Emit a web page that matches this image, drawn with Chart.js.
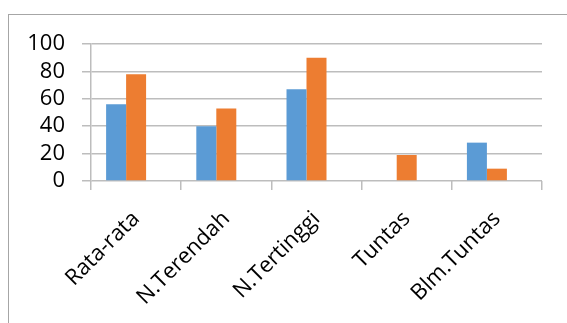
<!DOCTYPE html>
<html>
<head>
<meta charset="utf-8">
<script src="https://cdn.jsdelivr.net/npm/chart.js@4"></script>
<style>
    body { margin: 0; background: #fff; }
    #frame { position: absolute; left: 8px; top: 14px; width: 600px; height: 400px;
             border-left: 1px solid #a6a6a6; border-top: 1px solid #a6a6a6; }
    #nilai { position: absolute; left: 0; top: 0; }
</style>
</head>
<body>
<div id="frame"></div>
<canvas id="nilai" width="567" height="323"></canvas>
<script>
// data
var categories = ['Rata-rata', 'N.Terendah', 'N.Tertinggi', 'Tuntas', 'Blm.Tuntas'];
var series1 = [56, 40, 67, 0, 28];
var series2 = [78, 53, 90, 19, 9];
var series3 = [0, 0, 0, 0, 0];
var yTicks = [0, 20, 40, 60, 80, 100];

var fontFamily = '"Open Sans", sans-serif';
var gridColor = '#bdbdbd';

var ctx = document.getElementById('nilai').getContext('2d');
var chart = new Chart(ctx, {
    type: 'bar',
    data: {
        labels: categories,
        datasets: [{
            label: 'Series1',
            backgroundColor: '#5b9bd5',
            data: series1
        }, {
            label: 'Series2',
            backgroundColor: '#ed7d31',
            data: series2
        }, {
            label: 'Series3',
            backgroundColor: '#a5a5a5',
            data: series3
        }]
    },
    options: {
        responsive: false,
        animation: false,
        layout: { padding: { top: 44, right: 25, left: 0, bottom: 0 } },
        plugins: { legend: { display: false }, tooltip: { enabled: false } },
        datasets: { bar: { barPercentage: 1, categoryPercentage: 0.665 } },
        scales: {
            x: {
                grid: { drawOnChartArea: false, drawTicks: true, tickLength: 9, color: gridColor, lineWidth: 1.5 },
                border: { display: false },
                ticks: { color: '#000', font: { family: fontFamily, size: 22 }, minRotation: 45, maxRotation: 45, padding: 16, autoSkip: false },
                afterFit: function (scale) { scale.height = 142; }
            },
            y: {
                min: 0,
                max: 100,
                afterBuildTicks: function (scale) {
                    scale.ticks = yTicks.map(function (v) { return { value: v }; });
                },
                grid: { color: gridColor, lineWidth: 1.5, tickLength: 9 },
                border: { display: true, color: gridColor, width: 1.5 },
                ticks: { color: '#000', font: { family: fontFamily, size: 22 }, padding: 17, autoSkip: false },
                afterFit: function (scale) { scale.width = 91; }
            }
        }
    }
});
</script>
</body>
</html>
